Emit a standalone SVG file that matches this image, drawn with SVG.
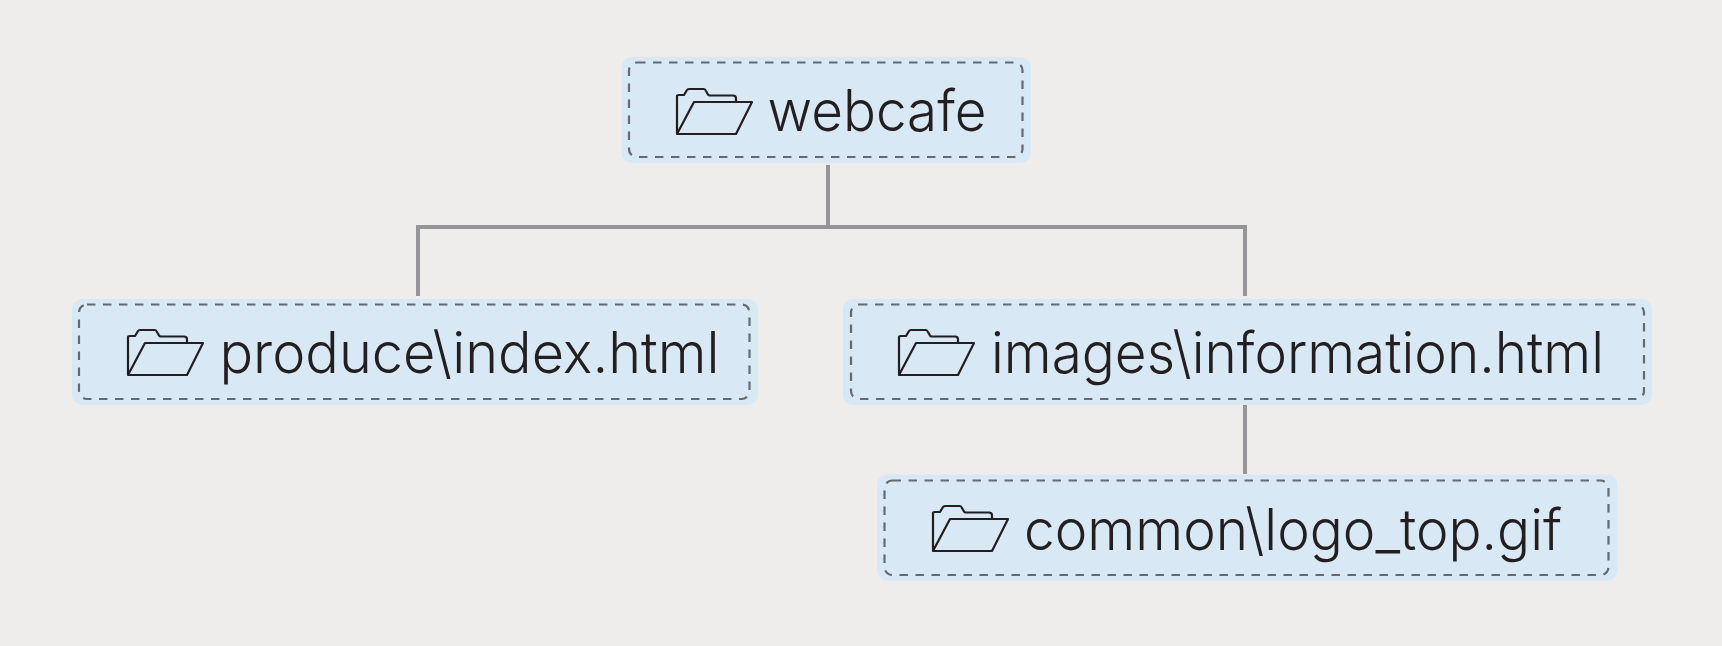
<svg xmlns="http://www.w3.org/2000/svg" width="1722" height="646" viewBox="0 0 1722 646">
<style>
.bg{fill:#d9e8f5}
.d{fill:none;stroke:#66696f;stroke-width:2.2;stroke-dasharray:8.5 7.5}
.t{font-family:"Inter","Liberation Sans",Arial,sans-serif;font-size:57px;fill:#231f20;font-weight:300}
.c{fill:none;stroke:#959599;stroke-width:4}
.i{fill:none;stroke:#231f20;stroke-width:2.2;stroke-linejoin:round}
</style>
<defs>
<g id="folder"><path class="i" d="M0 46V8Q0 7 2 7H7L10 2Q10.500 1 12 1H27Q28 1 29 3L31 6.500Q31.500 7.500 33 7.500H56Q59 7.500 59 10.500V14M17 14H75L59 46H0L17 14Z"/></g>
</defs>
<rect width="1722" height="646" fill="#eeedec"/>
<g id="connectors">
<path class="c" d="M828 165V227M418 296V227H1245V296M1245 405V474"/>
</g>
<g id="n1"><rect class="bg" x="621.500" y="57" width="409.500" height="106" rx="10"/><rect class="d" x="629" y="62.500" width="393.500" height="94.500" rx="8"/><use href="#folder" x="677" y="88"/><text class="t" x="767.500" y="131" textLength="219" lengthAdjust="spacingAndGlyphs">webcafe</text></g>
<g id="n2"><rect class="bg" x="72" y="299" width="686" height="106" rx="10"/><rect class="d" x="79" y="304.500" width="670.500" height="94.500" rx="8"/><use href="#folder" x="128" y="329"/><text class="t" x="219.500" y="373" textLength="500" lengthAdjust="spacingAndGlyphs">produce\index.html</text></g>
<g id="n3"><rect class="bg" x="843" y="299" width="809" height="106" rx="10"/><rect class="d" x="851" y="304.500" width="793" height="94.500" rx="8"/><use href="#folder" x="899" y="329"/><text class="t" x="991" y="373" textLength="613" lengthAdjust="spacingAndGlyphs">images\information.html</text></g>
<g id="n4"><rect class="bg" x="877" y="474.500" width="740.500" height="106" rx="10"/><rect class="d" x="884.500" y="480.500" width="724" height="94.500" rx="8"/><use href="#folder" x="933" y="505"/><text class="t" x="1024" y="549.500" textLength="538" lengthAdjust="spacingAndGlyphs">common\logo_top.gif</text></g>
</svg>
